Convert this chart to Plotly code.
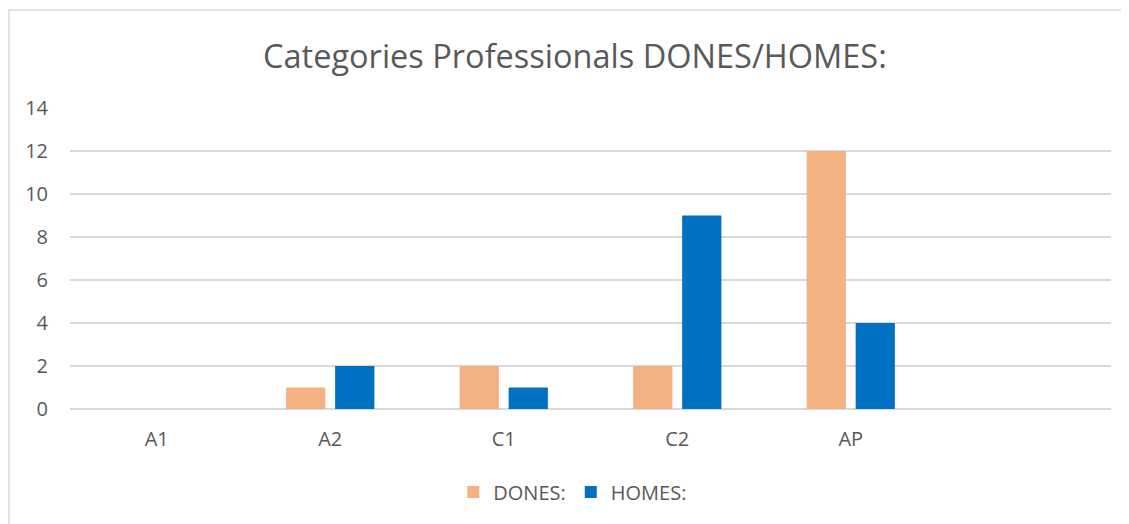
import plotly.graph_objects as go

categories = ['A1', 'A2', 'C1', 'C2', 'AP', ' ']
dones = [0, 1, 2, 2, 12, None]
homes = [0, 2, 1, 9, 4, None]

FONT = 'Open Sans'
TEXT_COLOR = '#595959'
GRID_COLOR = '#d9d9d9'

fig = go.Figure()
fig.add_trace(go.Bar(
    x=categories, y=dones, name='DONES:',
    marker=dict(color='#F4B183', line=dict(width=0)),
))
fig.add_trace(go.Bar(
    x=categories, y=homes, name='HOMES:',
    marker=dict(color='#0070C0', line=dict(width=0)),
))

# the page puts the figure 8px in from the top-left corner
fig.update_layout(
    width=1121,
    height=516,
    barmode='group',
    bargap=0.435,
    bargroupgap=0.2,
    paper_bgcolor='white',
    plot_bgcolor='white',
    margin=dict(l=62, r=18, t=100, b=115),
    font=dict(family=FONT, color=TEXT_COLOR, size=20),
    title=dict(
        text='Categories Professionals DONES/HOMES:',
        x=0.485, xref='paper', xanchor='center',
        y=0.905, yanchor='middle',
        font=dict(family=FONT, size=32.5, color=TEXT_COLOR),
    ),
    xaxis=dict(
        showgrid=False,
        showline=False,
        ticks='',
        ticklabelstandoff=16,
        tickfont=dict(size=20, color=TEXT_COLOR),
    ),
    yaxis=dict(
        range=[0, 14],
        dtick=2,
        showgrid=True,
        gridcolor=GRID_COLOR,
        gridwidth=1.5,
        zeroline=True,
        zerolinecolor=GRID_COLOR,
        zerolinewidth=1.5,
        showline=False,
        ticks='',
        ticklabelstandoff=21,
        tickfont=dict(size=20, color=TEXT_COLOR),
    ),
    legend=dict(
        orientation='h',
        x=0.483, xanchor='center',
        y=-0.276, yanchor='middle',
        font=dict(size=20, color=TEXT_COLOR),
        itemwidth=30,
    ),
    shapes=[
        dict(
            type='rect', xref='paper', yref='paper',
            x0=-0.0586, x1=1.03, y0=-0.42, y1=1.3256,
            line=dict(color=GRID_COLOR, width=1.5),
            fillcolor='rgba(0,0,0,0)',
        )
    ],
)

fig.write_html('out.html')
